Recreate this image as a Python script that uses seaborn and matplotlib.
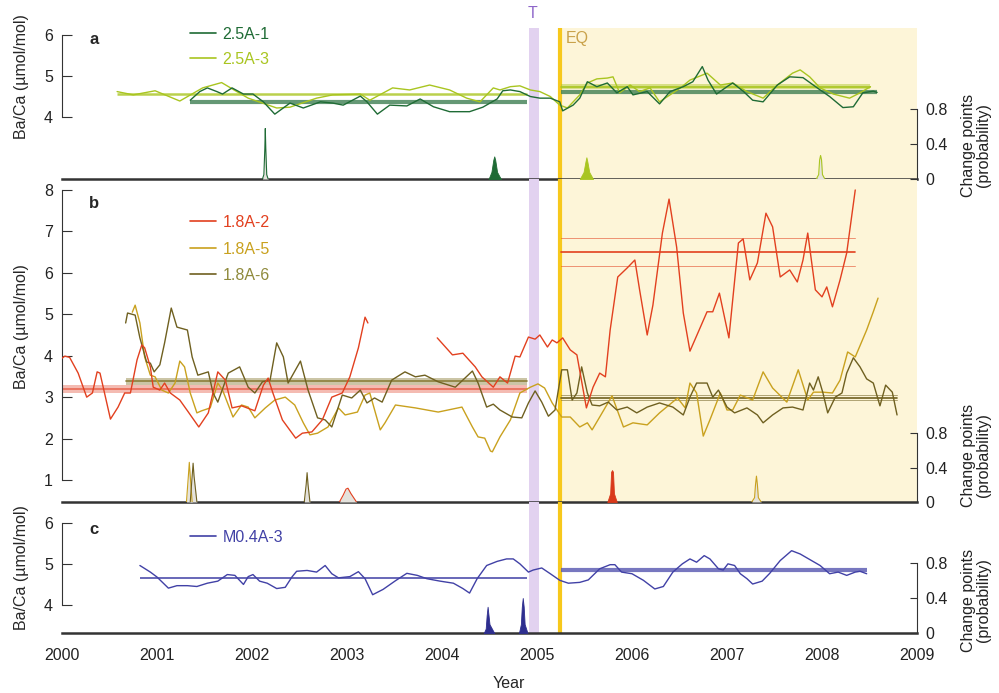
import matplotlib
matplotlib.use("Agg")
import matplotlib.pyplot as plt
from matplotlib.lines import Line2D
import seaborn as sns

sns.set_style("white")
plt.rcParams["font.family"] = ["Liberation Sans", "DejaVu Sans"]
plt.rcParams["font.size"] = 11.5

# ---------------- data ----------------
# panel a: Ba/Ca records
yr_25a1 = [2001.35, 2001.45, 2001.53, 2001.63, 2001.69, 2001.79, 2001.91, 2002.01, 2002.12, 2002.24,
           2002.40, 2002.54, 2002.72, 2002.85, 2002.96, 2003.14, 2003.21, 2003.32, 2003.45, 2003.63,
           2003.77, 2003.91, 2004.08, 2004.29, 2004.43, 2004.58, 2004.64, 2004.72, 2004.82, 2004.93,
           2005.03, 2005.14, 2005.24, 2005.27, 2005.38, 2005.45, 2005.53, 2005.63, 2005.74, 2005.84,
           2005.95, 2006.01, 2006.16, 2006.29, 2006.40, 2006.54, 2006.64, 2006.74, 2006.80, 2006.89,
           2007.00, 2007.06, 2007.17, 2007.27, 2007.38, 2007.53, 2007.66, 2007.80, 2007.95, 2008.08,
           2008.22, 2008.33, 2008.43, 2008.54, 2008.58]
ba_25a1 = [4.41, 4.62, 4.71, 4.62, 4.56, 4.71, 4.56, 4.56, 4.37, 4.07,
           4.34, 4.22, 4.37, 4.34, 4.29, 4.51, 4.37, 4.07, 4.29, 4.27,
           4.44, 4.25, 4.13, 4.13, 4.24, 4.44, 4.64, 4.66, 4.62, 4.50,
           4.46, 4.46, 4.37, 4.15, 4.29, 4.46, 4.86, 4.74, 4.83, 4.59,
           4.74, 4.54, 4.62, 4.32, 4.62, 4.74, 4.86, 5.23, 4.90, 4.56,
           4.74, 4.83, 4.63, 4.41, 4.37, 4.78, 4.98, 4.96, 4.71, 4.50,
           4.23, 4.25, 4.59, 4.63, 4.60]

yr_25a3 = [2000.58, 2000.75, 2000.98, 2001.24, 2001.48, 2001.68, 2001.84, 2001.96, 2002.26, 2002.40,
           2002.68, 2002.85, 2003.14, 2003.24, 2003.48, 2003.66, 2003.87, 2004.08, 2004.26, 2004.40,
           2004.54, 2004.61, 2004.72, 2004.82, 2004.93, 2005.03, 2005.14, 2005.24, 2005.32, 2005.45,
           2005.53, 2005.63, 2005.74, 2005.80, 2005.87, 2005.98, 2006.08, 2006.19, 2006.29, 2006.40,
           2006.51, 2006.61, 2006.79, 2006.93, 2007.06, 2007.21, 2007.38, 2007.53, 2007.69, 2007.77,
           2007.87, 2007.98, 2008.12, 2008.29, 2008.40, 2008.51]
ba_25a3 = [4.62, 4.54, 4.64, 4.39, 4.71, 4.84, 4.62, 4.46, 4.22, 4.24,
           4.46, 4.54, 4.56, 4.41, 4.71, 4.66, 4.78, 4.66, 4.46, 4.37,
           4.71, 4.66, 4.74, 4.76, 4.66, 4.62, 4.50, 4.29, 4.22, 4.54,
           4.83, 4.93, 4.95, 4.98, 4.59, 4.78, 4.62, 4.71, 4.37, 4.54,
           4.71, 4.90, 5.07, 4.78, 4.83, 4.62, 4.46, 4.78, 5.07, 5.15,
           4.98, 4.71, 4.56, 4.46, 4.59, 4.74]

# panel b: Ba/Ca records (1.8A-2 has a gap in 2003)
yr_18a2_p1 = [2000.00, 2000.03, 2000.08, 2000.17, 2000.26, 2000.32, 2000.37, 2000.40, 2000.51, 2000.59,
              2000.66, 2000.72, 2000.79, 2000.84, 2000.87, 2000.93, 2000.96, 2001.03, 2001.08, 2001.14,
              2001.24, 2001.33, 2001.44, 2001.54, 2001.64, 2001.72, 2001.79, 2001.89, 2002.03, 2002.12,
              2002.17, 2002.22, 2002.32, 2002.46, 2002.53, 2002.63, 2002.74, 2002.84, 2002.95, 2003.03,
              2003.12, 2003.19, 2003.22]
ba_18a2_p1 = [3.94, 3.99, 3.96, 3.58, 3.00, 3.10, 3.61, 3.58, 2.47, 2.76,
              3.10, 3.10, 3.90, 4.26, 4.19, 3.73, 3.24, 3.17, 3.34, 3.10,
              2.93, 2.64, 2.28, 2.62, 3.61, 3.41, 2.74, 2.79, 2.67, 3.29,
              3.46, 3.10, 2.45, 2.01, 2.13, 2.16, 2.45, 3.00, 3.10, 3.49,
              4.19, 4.93, 4.79]
yr_18a2_p2 = [2003.95, 2004.11, 2004.22, 2004.35, 2004.42, 2004.54, 2004.61, 2004.69, 2004.77, 2004.82,
              2004.91, 2004.98, 2005.03, 2005.11, 2005.16, 2005.21, 2005.27, 2005.35, 2005.42, 2005.52,
              2005.59, 2005.66, 2005.72, 2005.77, 2005.85, 2005.95, 2006.03, 2006.08, 2006.16, 2006.22,
              2006.32, 2006.39, 2006.47, 2006.54, 2006.61, 2006.72, 2006.79, 2006.85, 2006.92, 2006.98,
              2007.02, 2007.12, 2007.17, 2007.24, 2007.32, 2007.41, 2007.48, 2007.56, 2007.66, 2007.74,
              2007.80, 2007.85, 2007.93, 2008.00, 2008.05, 2008.11, 2008.19, 2008.26, 2008.35]
ba_18a2_p2 = [4.43, 4.02, 4.06, 3.73, 3.49, 3.24, 3.49, 3.34, 3.99, 3.97,
              4.45, 4.40, 4.50, 4.21, 4.38, 4.31, 4.43, 4.14, 4.02, 2.74,
              3.24, 3.58, 3.49, 4.62, 5.90, 6.12, 6.31, 5.59, 4.50, 5.22,
              6.96, 7.78, 6.62, 5.03, 4.11, 4.69, 5.06, 5.06, 5.51, 4.86,
              4.43, 6.72, 6.82, 5.83, 6.24, 7.44, 7.11, 5.90, 6.07, 5.78,
              6.31, 6.96, 5.59, 5.42, 5.66, 5.18, 5.83, 6.48, 8.00]

yr_18a5 = [2000.74, 2000.77, 2000.82, 2000.87, 2000.93, 2000.98, 2001.05, 2001.12, 2001.19, 2001.24,
           2001.29, 2001.35, 2001.42, 2001.47, 2001.56, 2001.64, 2001.69, 2001.80, 2001.89, 2001.96,
           2002.03, 2002.14, 2002.24, 2002.35, 2002.45, 2002.54, 2002.61, 2002.69, 2002.80, 2002.91,
           2002.98, 2003.11, 2003.19, 2003.24, 2003.35, 2003.40, 2003.51, 2003.72, 2003.96, 2004.21,
           2004.32, 2004.38, 2004.45, 2004.51, 2004.53, 2004.61, 2004.72, 2004.82, 2004.93, 2005.01,
           2005.08, 2005.16, 2005.26, 2005.35, 2005.45, 2005.53, 2005.58, 2005.66, 2005.79, 2005.91,
           2006.01, 2006.16, 2006.29, 2006.48, 2006.56, 2006.61, 2006.68, 2006.75, 2006.82, 2006.93,
           2007.00, 2007.06, 2007.14, 2007.27, 2007.38, 2007.48, 2007.63, 2007.75, 2007.85, 2007.91,
           2008.01, 2008.11, 2008.19, 2008.27, 2008.35, 2008.47, 2008.54, 2008.59]
ba_18a5 = [5.05, 5.22, 4.79, 3.97, 3.53, 3.49, 3.17, 3.10, 3.34, 3.87,
           3.73, 3.10, 2.62, 2.67, 2.74, 3.34, 3.17, 2.52, 2.81, 2.76,
           2.50, 2.74, 2.93, 3.00, 2.81, 2.38, 2.09, 2.13, 2.28, 2.74,
           2.57, 2.64, 3.05, 3.10, 2.21, 2.38, 2.81, 2.74, 2.64, 2.76,
           2.28, 2.04, 2.01, 1.70, 1.68, 2.04, 2.45, 3.10, 3.24, 3.32,
           3.22, 2.86, 2.52, 2.52, 2.28, 2.38, 2.21, 2.52, 3.03, 2.28,
           2.38, 2.33, 2.62, 2.98, 2.74, 3.34, 3.10, 2.06, 2.45, 3.10,
           2.69, 2.69, 3.05, 2.93, 3.61, 3.22, 2.88, 3.66, 2.93, 3.12,
           3.12, 3.10, 3.41, 4.09, 3.97, 4.62, 5.06, 5.39]

yr_18a6 = [2000.67, 2000.69, 2000.77, 2000.82, 2000.89, 2000.93, 2000.97, 2001.03, 2001.08, 2001.15,
           2001.21, 2001.32, 2001.37, 2001.43, 2001.54, 2001.59, 2001.64, 2001.75, 2001.87, 2001.96,
           2002.03, 2002.11, 2002.19, 2002.26, 2002.33, 2002.38, 2002.51, 2002.59, 2002.69, 2002.77,
           2002.84, 2002.95, 2003.05, 2003.14, 2003.21, 2003.29, 2003.37, 2003.47, 2003.61, 2003.72,
           2003.82, 2003.96, 2004.14, 2004.32, 2004.38, 2004.47, 2004.54, 2004.61, 2004.74, 2004.84,
           2004.91, 2004.98, 2005.05, 2005.12, 2005.19, 2005.26, 2005.32, 2005.37, 2005.42, 2005.47,
           2005.53, 2005.58, 2005.66, 2005.75, 2005.84, 2005.95, 2006.05, 2006.16, 2006.29, 2006.43,
           2006.54, 2006.61, 2006.68, 2006.79, 2006.85, 2006.91, 2007.00, 2007.08, 2007.21, 2007.32,
           2007.38, 2007.48, 2007.59, 2007.69, 2007.80, 2007.87, 2007.91, 2007.96, 2008.01, 2008.06,
           2008.14, 2008.21, 2008.26, 2008.33, 2008.40, 2008.47, 2008.54, 2008.61, 2008.67, 2008.74,
           2008.79]
ba_18a6 = [4.79, 5.03, 4.98, 4.43, 3.85, 3.82, 3.61, 3.78, 4.31, 5.15,
           4.69, 4.62, 3.97, 3.53, 3.61, 3.10, 2.88, 3.58, 3.73, 3.24,
           3.10, 3.37, 3.41, 4.31, 3.97, 3.34, 3.87, 3.17, 2.50, 2.45,
           2.28, 3.05, 2.98, 3.17, 2.86, 2.98, 2.88, 3.41, 3.61, 3.49,
           3.53, 3.37, 3.24, 3.63, 3.34, 2.76, 2.83, 2.69, 2.52, 2.50,
           2.86, 3.15, 2.88, 2.54, 2.69, 3.66, 3.66, 2.93, 3.10, 3.73,
           3.10, 2.81, 2.79, 2.88, 2.69, 2.76, 2.62, 2.76, 2.86, 2.76,
           2.57, 3.00, 3.34, 3.34, 3.00, 3.17, 2.76, 2.62, 2.74, 2.57,
           2.38, 2.57, 2.74, 2.76, 2.69, 3.34, 3.17, 3.49, 3.10, 2.62,
           3.00, 3.10, 3.58, 3.95, 3.73, 3.44, 3.34, 2.79, 3.29, 3.12,
           2.57]

# panel c
yr_m04a3 = [2000.82, 2000.93, 2001.00, 2001.12, 2001.21, 2001.32, 2001.42, 2001.53, 2001.64, 2001.74,
            2001.82, 2001.91, 2001.96, 2002.01, 2002.08, 2002.16, 2002.26, 2002.35, 2002.42, 2002.47,
            2002.58, 2002.68, 2002.77, 2002.84, 2002.91, 2003.03, 2003.12, 2003.19, 2003.27, 2003.38,
            2003.51, 2003.63, 2003.74, 2003.84, 2003.98, 2004.12, 2004.22, 2004.29, 2004.37, 2004.47,
            2004.58, 2004.68, 2004.75, 2004.82, 2004.91, 2004.96, 2005.05, 2005.14, 2005.24, 2005.33,
            2005.45, 2005.54, 2005.66, 2005.77, 2005.82, 2005.89, 2006.00, 2006.12, 2006.24, 2006.33,
            2006.43, 2006.53, 2006.61, 2006.68, 2006.76, 2006.82, 2006.91, 2006.96, 2007.01, 2007.08,
            2007.14, 2007.21, 2007.27, 2007.37, 2007.45, 2007.56, 2007.68, 2007.77, 2007.89, 2007.98,
            2008.08, 2008.17, 2008.26, 2008.35, 2008.40, 2008.47]
ba_m04a3 = [4.96, 4.80, 4.68, 4.41, 4.47, 4.47, 4.45, 4.53, 4.58, 4.74,
            4.72, 4.50, 4.69, 4.74, 4.58, 4.53, 4.40, 4.43, 4.68, 4.82,
            4.84, 4.80, 4.96, 4.76, 4.66, 4.69, 4.81, 4.64, 4.25, 4.38,
            4.59, 4.77, 4.72, 4.64, 4.58, 4.53, 4.40, 4.29, 4.64, 4.96,
            5.06, 5.12, 5.12, 5.00, 4.80, 4.85, 4.90, 4.76, 4.60, 4.53,
            4.55, 4.61, 4.88, 4.98, 4.98, 4.80, 4.76, 4.60, 4.39, 4.45,
            4.80, 5.00, 5.12, 5.04, 5.20, 5.12, 4.88, 4.85, 5.00, 4.96,
            4.76, 4.64, 4.51, 4.58, 4.77, 5.08, 5.32, 5.24, 5.08, 4.96,
            4.76, 4.80, 4.72, 4.80, 4.82, 4.76]

# segment means before / after the earthquake: start, end, mean, half band
mean_25a1 = [(2001.35, 2004.89, 4.37, 0.05), (2005.25, 2008.58, 4.62, 0.05)]
mean_25a3 = [(2000.58, 2004.89, 4.55, 0.03), (2005.25, 2008.51, 4.74, 0.06)]
mean_18a2 = [(2000.00, 2004.89, 3.20, 0.09), (2005.25, 2008.35, 6.50, 0.34)]
mean_18a6 = [(2000.67, 2004.89, 3.38, 0.08), (2005.25, 2008.79, 2.98, 0.06)]
mean_m04a3 = [(2000.82, 2004.89, 4.66, 0.01), (2005.25, 2008.47, 4.84, 0.03)]

# change-point probability peaks
cp_25a1_1_x = [2002.11, 2002.125, 2002.135, 2002.14, 2002.145, 2002.155, 2002.17]
cp_25a1_1_y = [0, 0.05, 0.35, 0.58, 0.35, 0.05, 0]
cp_25a1_2_x = [2004.49, 2004.52, 2004.54, 2004.55, 2004.56, 2004.58, 2004.62]
cp_25a1_2_y = [0, 0.08, 0.22, 0.26, 0.22, 0.08, 0]
cp_25a3_1_x = [2005.45, 2005.49, 2005.51, 2005.52, 2005.53, 2005.55, 2005.59]
cp_25a3_1_y = [0, 0.08, 0.20, 0.25, 0.20, 0.08, 0]
cp_25a3_2_x = [2007.94, 2007.965, 2007.975, 2007.985, 2007.995, 2008.005, 2008.03]
cp_25a3_2_y = [0, 0.05, 0.22, 0.27, 0.22, 0.05, 0]

cp_18a5_1_x = [2001.31, 2001.33, 2001.34, 2001.35, 2001.37]
cp_18a5_1_y = [0, 0.30, 0.46, 0.30, 0]
cp_18a6_1_x = [2001.35, 2001.37, 2001.38, 2001.39, 2001.42]
cp_18a6_1_y = [0, 0.30, 0.45, 0.30, 0]
cp_18a6_2_x = [2002.55, 2002.57, 2002.58, 2002.59, 2002.61]
cp_18a6_2_y = [0, 0.20, 0.34, 0.20, 0]
cp_18a2_1_x = [2002.92, 2002.96, 2002.99, 2003.01, 2003.04, 2003.10]
cp_18a2_1_y = [0, 0.08, 0.15, 0.16, 0.10, 0]
cp_18a2_2_x = [2005.74, 2005.77, 2005.78, 2005.79, 2005.80, 2005.81, 2005.84]
cp_18a2_2_y = [0, 0.10, 0.35, 0.37, 0.35, 0.10, 0]
cp_18a5_2_x = [2007.26, 2007.29, 2007.30, 2007.31, 2007.32, 2007.33, 2007.36]
cp_18a5_2_y = [0, 0.05, 0.20, 0.30, 0.20, 0.05, 0]

cp_m04a3_1_x = [2004.44, 2004.46, 2004.47, 2004.48, 2004.49, 2004.50, 2004.52, 2004.55]
cp_m04a3_1_y = [0, 0.05, 0.20, 0.30, 0.20, 0.10, 0.06, 0]
cp_m04a3_2_x = [2004.81, 2004.83, 2004.84, 2004.85, 2004.86, 2004.87, 2004.90]
cp_m04a3_2_y = [0, 0.10, 0.30, 0.40, 0.30, 0.10, 0]

# events
tsunami_span = (2004.92, 2005.02)
eq_year = 2005.24
years = list(range(2000, 2010))

# colours
c_25a1, c_25a3 = "#1f6b35", "#a9c520"
c_18a2, c_18a5, c_18a6 = "#e2401f", "#c9a11e", "#6f6020"
c_m04 = "#4141a6"
spine_c = "#333333"

# ---------------- figure ----------------
fig = plt.figure(figsize=(9.99, 6.93), dpi=100)
L, W = 62 / 999, 855 / 999
ax_a = fig.add_axes([L, 514 / 693, W, 151 / 693])
ax_b = fig.add_axes([L, 191 / 693, W, 323 / 693])
ax_c = fig.add_axes([L, 60 / 693, W, 131 / 693])
axes = [ax_a, ax_b, ax_c]
left_lims = [(2.488, 6.171), (0.469, 8.265), (3.320, 6.503)]
right_lims = [(0, 1.734), (0, 3.745), (0, 1.497)]
left_bounds = [(4, 6), (1, 8), (4, 6)]
left_ticks = [[4, 5, 6], list(range(1, 9)), [4, 5, 6]]
twins = []

for i, ax in enumerate(axes):
    ax.set_xlim(2000, 2009)
    ax.set_ylim(*left_lims[i])
    ax.patch.set_alpha(0)
    if i < 2:
        ax.axvspan(eq_year, 2009, color="#fdf5d8", lw=0, zorder=0)
    ax.axvspan(*tsunami_span, color="#e2d2f0", lw=0, zorder=0.5)
    ax.axvline(eq_year, color="#f7c81c", lw=3, zorder=1)
    for s in ["top", "right"]:
        ax.spines[s].set_visible(False)
    ax.spines["left"].set_bounds(*left_bounds[i])
    ax.spines["left"].set_color(spine_c)
    ax.spines["left"].set_linewidth(0.8)
    ax.spines["bottom"].set_color(spine_c)
    ax.spines["bottom"].set_linewidth(1.8)
    ax.set_yticks(left_ticks[i])
    ax.tick_params(axis="y", direction="in", length=7, width=0.8, pad=6.5,
                   labelsize=11.5, colors="#222222")
    ax.tick_params(axis="y", color=spine_c)

    tw = ax.twinx()
    tw.set_ylim(*right_lims[i])
    for s in ["top", "left", "bottom"]:
        tw.spines[s].set_visible(False)
    tw.spines["right"].set_bounds(0, 0.8)
    tw.spines["right"].set_color(spine_c)
    tw.spines["right"].set_linewidth(0.8)
    tw.set_yticks([0, 0.4, 0.8])
    tw.set_yticklabels(["0", "0.4", "0.8"])
    tw.tick_params(axis="y", direction="in", length=5, width=0.8, pad=6,
                   labelsize=11.5, labelcolor="#222222", color=spine_c)
    tw.tick_params(axis="x", bottom=False, labelbottom=False)
    twins.append(tw)

    ax.set_ylabel("Ba/Ca (µmol/mol)", fontsize=11.5)
    ax.yaxis.label.set_va("center")


def draw_means(ax, segs, color, style):
    for x0, x1, m, h in segs:
        if style == "band":
            ax.fill_between([x0, x1], [m - h] * 2, [m + h] * 2, color=color, alpha=0.45, lw=0, zorder=2)
            ax.plot([x0, x1], [m, m], color=color, lw=1.2, zorder=2.1)
        elif style == "edges":
            ax.plot([x0, x1], [m, m], color=color, lw=1.2, zorder=2.1)
            ax.plot([x0, x1], [m - h] * 2, color=color, lw=0.7, alpha=0.55, zorder=2)
            ax.plot([x0, x1], [m + h] * 2, color=color, lw=0.7, alpha=0.55, zorder=2)
        else:
            ax.plot([x0, x1], [m, m], color=color, lw=style, alpha=0.8, zorder=2,
                    solid_capstyle="butt")


def draw_cp(tw, x, y, color, filled):
    if filled:
        tw.fill_between(x, y, color=color, lw=0.6, edgecolor=color, zorder=3)
    else:
        tw.fill_between(x, y, color="#e4e2dc", lw=0, zorder=3)
        tw.plot(x, y, color=color, lw=0.8, zorder=3.1)


# panel a
draw_means(ax_a, mean_25a3[:1], c_25a3, 1.8)
draw_means(ax_a, mean_25a3[1:], c_25a3, "band")
draw_means(ax_a, mean_25a1, "#3f7f52", 3)
sns.lineplot(x=yr_25a3, y=ba_25a3, ax=ax_a, color=c_25a3, lw=1.0, legend=False, zorder=3)
sns.lineplot(x=yr_25a1, y=ba_25a1, ax=ax_a, color=c_25a1, lw=1.0, legend=False, zorder=3.2)
draw_cp(twins[0], cp_25a1_1_x, cp_25a1_1_y, c_25a1, False)
draw_cp(twins[0], cp_25a1_2_x, cp_25a1_2_y, c_25a1, True)
draw_cp(twins[0], cp_25a3_1_x, cp_25a3_1_y, c_25a3, True)
draw_cp(twins[0], cp_25a3_2_x, cp_25a3_2_y, c_25a3, False)

# panel b
draw_means(ax_b, mean_18a2[:1], "#e86a55", "band")
draw_means(ax_b, mean_18a2[1:], c_18a2, "edges")
draw_means(ax_b, mean_18a6[:1], "#8c7f3a", "band")
draw_means(ax_b, mean_18a6[1:], c_18a6, "edges")
sns.lineplot(x=yr_18a5, y=ba_18a5, ax=ax_b, color=c_18a5, lw=1.0, legend=False, zorder=3)
sns.lineplot(x=yr_18a6, y=ba_18a6, ax=ax_b, color=c_18a6, lw=1.0, legend=False, zorder=3.1)
sns.lineplot(x=yr_18a2_p1, y=ba_18a2_p1, ax=ax_b, color=c_18a2, lw=1.0, legend=False, zorder=3.2)
sns.lineplot(x=yr_18a2_p2, y=ba_18a2_p2, ax=ax_b, color=c_18a2, lw=1.0, legend=False, zorder=3.2)
draw_cp(twins[1], cp_18a5_1_x, cp_18a5_1_y, c_18a5, False)
draw_cp(twins[1], cp_18a6_1_x, cp_18a6_1_y, c_18a6, False)
draw_cp(twins[1], cp_18a6_2_x, cp_18a6_2_y, c_18a6, False)
draw_cp(twins[1], cp_18a2_1_x, cp_18a2_1_y, c_18a2, False)
draw_cp(twins[1], cp_18a2_2_x, cp_18a2_2_y, "#d9391a", True)
draw_cp(twins[1], cp_18a5_2_x, cp_18a5_2_y, c_18a5, False)

# panel c
draw_means(ax_c, mean_m04a3[:1], c_m04, 1.4)
draw_means(ax_c, mean_m04a3[1:], "#5555b0", 3)
sns.lineplot(x=yr_m04a3, y=ba_m04a3, ax=ax_c, color=c_m04, lw=1.0, legend=False, zorder=3)
draw_cp(twins[2], cp_m04a3_1_x, cp_m04a3_1_y, "#2e2e8f", True)
draw_cp(twins[2], cp_m04a3_2_x, cp_m04a3_2_y, "#2e2e8f", True)

# x axes
for ax in [ax_a, ax_b]:
    ax.tick_params(axis="x", bottom=False, labelbottom=False)
    ax.set_xlabel("")
ax_c.set_xticks(years)
ax_c.set_xticklabels([str(y) for y in years])
ax_c.tick_params(axis="x", direction="in", length=5, width=0.8, pad=11,
                 labelsize=11.5, color=spine_c, labelcolor="#222222")
ax_c.set_xlabel("Year", fontsize=11.5)
ax_c.xaxis.set_label_coords(0.522, -0.33)

# y labels
label_y = [0.68, 0.542, 0.496]
for ax, ly in zip(axes, label_y):
    ax.yaxis.set_label_coords(-0.047, ly)
right_label_y = [145, 455, 600]
for ry in right_label_y:
    fig.text(976 / 999, 1 - ry / 693, "Change points\n(probability)", rotation=90,
             ha="center", va="center", fontsize=11.5, linespacing=1.0, color="#222222")

# panel letters
for ax, letter, ly in zip(axes, ["a", "b", "c"], [40, 204, 530]):
    fig.text(94 / 999, 1 - ly / 693, letter, fontweight="bold", fontsize=12,
             ha="center", va="center")

# event labels
fig.text(533 / 999, 1 - 14 / 693, "T", color="#8e66c9", fontsize=11.5, ha="center", va="center")
fig.text(566 / 999, 1 - 38 / 693, "EQ", color="#c9a24a", fontsize=11.5, ha="left", va="center")

# legends
def add_legend(ax, labels, colors, text_colors, top_px, spacing):
    handles = [Line2D([], [], color=c, lw=1.2) for c in colors]
    ax.legend(handles, labels, loc="upper left", bbox_to_anchor=(190 / 999, 1 - top_px / 693),
              bbox_transform=fig.transFigure, frameon=False, handlelength=1.6,
              handletextpad=0.45, labelspacing=spacing, borderpad=0, borderaxespad=0,
              fontsize=11.5, labelcolor=text_colors)

add_legend(twins[0], ["2.5A-1", "2.5A-3"], [c_25a1, c_25a3], [c_25a1, c_25a3], 27, 0.62)
add_legend(twins[1], ["1.8A-2", "1.8A-5", "1.8A-6"], [c_18a2, c_18a5, c_18a6],
           [c_18a2, c_18a5, "#8f8a3c"], 215, 0.72)
add_legend(twins[2], ["M0.4A-3"], [c_m04], [c_m04], 530, 0.5)

fig.savefig("out.png", dpi=100)
